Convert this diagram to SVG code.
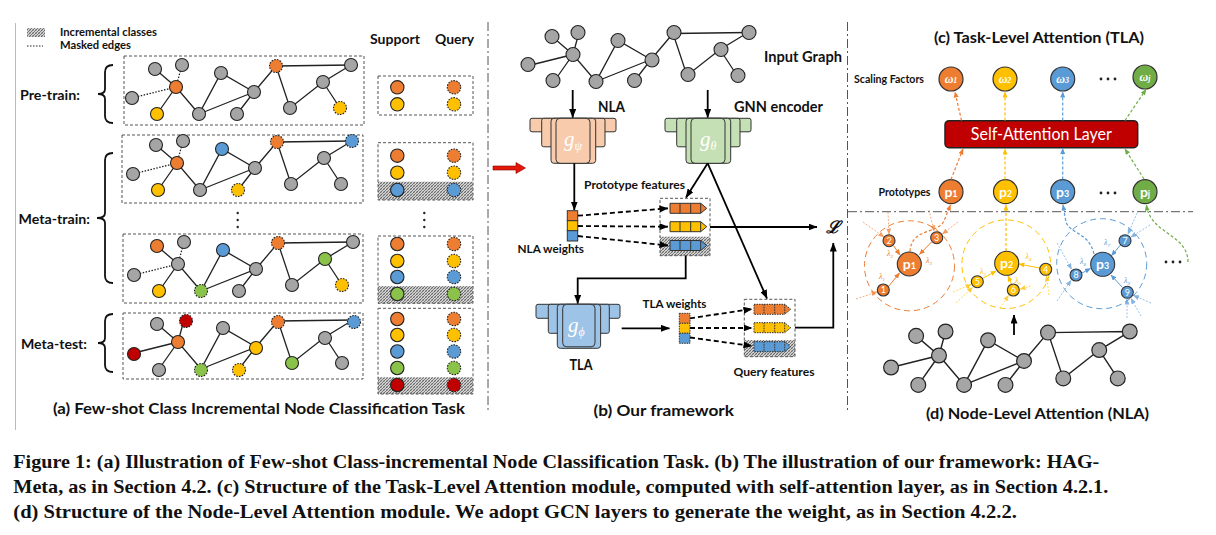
<svg xmlns="http://www.w3.org/2000/svg" width="1216" height="535" viewBox="0 0 1216 535">
<style>
.lb{font-family:Lato,'Liberation Sans',sans-serif;font-weight:700;fill:#111}
.cap{font-family:'Liberation Serif',serif;font-weight:700;fill:#111;font-size:19px}
.n{stroke:#222;stroke-width:1.1}
.gr{fill:#A5A5A5}.or{fill:#ED7D31}.ye{fill:#FFC000}.bl{fill:#5B9BD5}.gn{fill:#8BC34A}.rd{fill:#C00000}.gn2{fill:#70AD47}
.q{stroke-dasharray:1.6 1.2}
.e{fill:none;stroke:#222;stroke-width:1.3}
.m{stroke-dasharray:1.5 1.5}
.box{fill:none;stroke:#555;stroke-width:1;stroke-dasharray:3 2}
.dd{fill:none;stroke:#555;stroke-width:1;stroke-dasharray:9 3 2 3}
.ar{fill:none;stroke:#000;stroke-width:1.8;marker-end:url(#ak)}
.da{fill:none;stroke:#000;stroke-width:1.8;stroke-dasharray:5 3;marker-end:url(#ak)}
.blk rect{stroke:#333;stroke-width:1}
.nla rect{fill:#F8CBAD}.gnn rect{fill:#C5E0B4}.tla rect{fill:#9DC3E6}
.gt{font-family:'Liberation Serif',serif;font-style:italic;fill:#fff;font-size:21px}
.cl{fill:none;stroke-width:1.2;stroke-dasharray:3 2}
.thin{fill:none;stroke-width:0.8;stroke-dasharray:2 1.5;opacity:0.75}
.sol{fill:none;stroke-width:1}
.lam{font-family:'Liberation Serif',serif;font-style:italic;font-size:8px}
.num{font-family:Lato,'Liberation Sans',sans-serif;font-size:9px;fill:#fff;text-anchor:middle}
.pt{font-family:Lato,'Liberation Sans',sans-serif;font-weight:700;font-size:14px;fill:#fff;text-anchor:middle}
.wt{font-family:'Liberation Serif',serif;font-style:italic;font-weight:700;font-size:12px;fill:#fff;text-anchor:middle}
</style>
<defs>
<pattern id="hatch" width="3" height="3" patternUnits="userSpaceOnUse">
<rect width="3" height="3" fill="#d4d4d4"/>
<path d="M0,3 L3,0 M-1,1 L1,-1 M2,4 L4,2" stroke="#505050" stroke-width="0.8"/>
<path d="M0,0 L3,3" stroke="#8a8a8a" stroke-width="0.5"/>
</pattern>
<marker id="ak" markerUnits="userSpaceOnUse" markerWidth="9" markerHeight="7" refX="8.5" refY="3.5" orient="auto"><path d="M0,0 L9,3.5 L0,7 z" fill="#000"/></marker>
<marker id="aor" markerUnits="userSpaceOnUse" markerWidth="6" markerHeight="5" refX="5.5" refY="2.5" orient="auto"><path d="M0,0 L6,2.5 L0,5 z" fill="#ED7D31"/></marker>
<marker id="aye" markerUnits="userSpaceOnUse" markerWidth="6" markerHeight="5" refX="5.5" refY="2.5" orient="auto"><path d="M0,0 L6,2.5 L0,5 z" fill="#FFC000"/></marker>
<marker id="abl" markerUnits="userSpaceOnUse" markerWidth="6" markerHeight="5" refX="5.5" refY="2.5" orient="auto"><path d="M0,0 L6,2.5 L0,5 z" fill="#5B9BD5"/></marker>
<marker id="agn" markerUnits="userSpaceOnUse" markerWidth="6" markerHeight="5" refX="5.5" refY="2.5" orient="auto"><path d="M0,0 L6,2.5 L0,5 z" fill="#70AD47"/></marker>
<path id="bar" d="M0,0 H30.7 L36.7,5 L30.7,10 H0 Z M10,0 V10 M20.7,0 V10 M30.7,0 V10"/>
<path id="egs" d="M-21,-18L0,0 M-19,27L0,0 L23,27 L45,-14 L78,5 M23,27L78,5 M61,27L78,5 L100,-21 L175,-22 M100,-21L114,21 L147,-5 L175,-22 M147,-5L164,21"/>
<path id="egm" d="M6,-22L0,0 M-44,11L0,0"/>
<g id="ell"><circle cx="-7" cy="0" r="1.4"/><circle cx="0" cy="0" r="1.4"/><circle cx="7" cy="0" r="1.4"/></g>
</defs>
<rect width="1216" height="535" fill="#fff"/>

<!-- dividers -->
<g id="dividers">
<line x1="15.5" y1="23" x2="15.5" y2="430" stroke="#bbb" stroke-width="1"/>
<line class="dd" x1="488" y1="22" x2="488" y2="412"/>
<line class="dd" x1="847.5" y1="22" x2="847.5" y2="412"/>
<line class="dd" x1="848" y1="211.7" x2="1193" y2="211.7"/>
</g>

<!-- (a) panel -->
<g id="legend">
<rect x="27" y="28" width="18" height="9" fill="url(#hatch)"/>
<line x1="27" y1="46" x2="43" y2="46" stroke="#222" stroke-width="1.2" stroke-dasharray="1.5 1.5"/>
<text class="lb" x="60" y="35.5" font-size="10.5" textLength="97" lengthAdjust="spacingAndGlyphs">Incremental classes</text>
<text class="lb" x="60" y="49" font-size="10.5" textLength="71" lengthAdjust="spacingAndGlyphs">Masked edges</text>
<text class="lb" x="370" y="43.5" font-size="13.5" textLength="50" lengthAdjust="spacingAndGlyphs">Support</text>
<text class="lb" x="435" y="43.5" font-size="13.5" textLength="39" lengthAdjust="spacingAndGlyphs">Query</text>
</g>

<g id="stage-labels">
<text class="lb" x="20" y="100" font-size="14" textLength="60" lengthAdjust="spacingAndGlyphs">Pre-train:</text>
<text class="lb" x="18.5" y="223.5" font-size="14" textLength="71.5" lengthAdjust="spacingAndGlyphs">Meta-train:</text>
<text class="lb" x="21" y="349" font-size="14" textLength="66" lengthAdjust="spacingAndGlyphs">Meta-test:</text>
<path d="M113,65 Q105,65 105,72 V89 Q105,94 98,94 Q105,94 105,99 V116 Q105,123 113,123" fill="none" stroke="#111" stroke-width="1.8"/>
<path d="M113,153 Q105,153 105,160 V213 Q105,218 97,218 Q105,218 105,223 V276 Q105,283 113,283" fill="none" stroke="#111" stroke-width="1.8"/>
<path d="M113,314 Q105,314 105,321 V338 Q105,343 98,343 Q105,343 105,348 V365 Q105,372 113,372" fill="none" stroke="#111" stroke-width="1.8"/>
<text class="lb" x="53" y="414" font-size="15.5" textLength="412" lengthAdjust="spacingAndGlyphs">(a) Few-shot Class Incremental Node Classification Task</text>
</g>

<g id="pretrain-graph">
<rect class="box" x="124" y="56" width="240" height="69"/>
<g transform="translate(176,87)">
<use href="#egs" class="e"/><use href="#egm" class="e m"/>
<circle class="n gr" cx="-21" cy="-18" r="6.5"/><circle class="n gr" cx="6" cy="-22" r="6.5"/><circle class="n gr" cx="-44" cy="11" r="6.5"/>
<circle class="n ye" cx="-19" cy="27" r="6.5"/><circle class="n gr" cx="23" cy="27" r="6.5"/><circle class="n gr" cx="45" cy="-14" r="6.5"/>
<circle class="n gr" cx="78" cy="5" r="6.5"/><circle class="n gr" cx="61" cy="27" r="6.5"/><circle class="n or q" cx="100" cy="-21" r="6.5"/>
<circle class="n gr" cx="175" cy="-22" r="6.5"/><circle class="n gr" cx="147" cy="-5" r="6.5"/><circle class="n gr" cx="114" cy="21" r="6.5"/>
<circle class="n ye q" cx="164" cy="21" r="6.5"/><circle class="n or" cx="0" cy="0" r="6.5"/>
</g>
</g>

<g id="metatrain-graph-1">
<rect class="box" x="122" y="135" width="241" height="68"/>
<g transform="translate(177,163)">
<use href="#egs" class="e"/><use href="#egm" class="e m"/>
<circle class="n gr" cx="-21" cy="-18" r="6.5"/><circle class="n gr" cx="6" cy="-22" r="6.5"/><circle class="n gr" cx="-44" cy="11" r="6.5"/>
<circle class="n ye" cx="-19" cy="27" r="6.5"/><circle class="n gr" cx="23" cy="27" r="6.5"/><circle class="n bl" cx="45" cy="-14" r="6.5"/>
<circle class="n gr" cx="78" cy="5" r="6.5"/><circle class="n ye q" cx="61" cy="27" r="6.5"/><circle class="n or q" cx="100" cy="-21" r="6.5"/>
<circle class="n bl q" cx="175" cy="-22" r="6.5"/><circle class="n gr" cx="147" cy="-5" r="6.5"/><circle class="n gr" cx="114" cy="21" r="6.5"/>
<circle class="n gr" cx="164" cy="21" r="6.5"/><circle class="n or" cx="0" cy="0" r="6.5"/>
</g>
</g>

<g id="ellipsis-dots" fill="#222">
<circle cx="237.7" cy="213" r="1.2"/><circle cx="237.7" cy="220" r="1.2"/><circle cx="237.7" cy="227" r="1.2"/>
<circle cx="424.3" cy="213" r="1.2"/><circle cx="424.3" cy="220" r="1.2"/><circle cx="424.3" cy="227" r="1.2"/>
</g>

<g id="metatrain-graph-2">
<rect class="box" x="123" y="234" width="240" height="69"/>
<g transform="translate(178,264)">
<use href="#egs" class="e"/><use href="#egm" class="e m"/>
<circle class="n or" cx="-21" cy="-18" r="6.5"/><circle class="n gr" cx="6" cy="-22" r="6.5"/><circle class="n gr" cx="-44" cy="11" r="6.5"/>
<circle class="n ye" cx="-19" cy="27" r="6.5"/><circle class="n gn q" cx="23" cy="27" r="6.5"/><circle class="n bl" cx="45" cy="-14" r="6.5"/>
<circle class="n gr" cx="78" cy="5" r="6.5"/><circle class="n gr" cx="61" cy="27" r="6.5"/><circle class="n or q" cx="100" cy="-21" r="6.5"/>
<circle class="n gr" cx="175" cy="-22" r="6.5"/><circle class="n gn" cx="147" cy="-5" r="6.5"/><circle class="n gr" cx="114" cy="21" r="6.5"/>
<circle class="n ye q" cx="164" cy="21" r="6.5"/><circle class="n gr" cx="0" cy="0" r="6.5"/>
</g>
</g>

<g id="metatest-graph">
<rect class="box" x="123" y="313" width="240" height="66"/>
<g transform="translate(178,342)">
<use href="#egs" class="e"/><use href="#egm" class="e"/>
<circle class="n gr" cx="-21" cy="-18" r="6.5"/><circle class="n rd q" cx="8" cy="-21" r="6.5"/><circle class="n rd" cx="-44" cy="12" r="6.5"/>
<circle class="n gr" cx="-19" cy="28" r="6.5"/><circle class="n gn q" cx="23" cy="28" r="6.5"/><circle class="n gr" cx="45" cy="-14" r="6.5"/>
<circle class="n ye" cx="78" cy="6" r="6.5"/><circle class="n ye q" cx="61" cy="28" r="6.5"/><circle class="n or q" cx="100" cy="-20" r="6.5"/>
<circle class="n bl q" cx="176" cy="-20" r="6.5"/><circle class="n gr" cx="147" cy="-4" r="6.5"/><circle class="n gn" cx="114" cy="21" r="6.5"/>
<circle class="n gr" cx="164" cy="21" r="6.5"/><circle class="n or" cx="0" cy="0" r="6.5"/>
</g>
</g>

<g id="sq-pretrain">
<rect class="box" x="378" y="76" width="95" height="39"/>
<circle class="n or" cx="397.3" cy="87.3" r="6.7"/><circle class="n or q" cx="454" cy="87.3" r="6.7"/>
<circle class="n ye" cx="397.3" cy="104.3" r="6.7"/><circle class="n ye q" cx="454" cy="104.3" r="6.7"/>
</g>
<g id="sq-metatrain-1">
<rect x="378" y="181.7" width="95" height="18.3" fill="url(#hatch)"/>
<rect class="box" x="378" y="142.7" width="95" height="57.3"/>
<circle class="n or" cx="397.3" cy="155.7" r="6.7"/><circle class="n or q" cx="454" cy="155.7" r="6.7"/>
<circle class="n ye" cx="397.3" cy="172.7" r="6.7"/><circle class="n ye q" cx="454" cy="172.7" r="6.7"/>
<circle class="n bl" cx="397.3" cy="190" r="6.7"/><circle class="n bl q" cx="454" cy="190" r="6.7"/>
</g>
<g id="sq-metatrain-2">
<rect x="378" y="286" width="95" height="17.3" fill="url(#hatch)"/>
<rect class="box" x="378" y="236" width="95" height="67.3"/>
<circle class="n or" cx="397.3" cy="244" r="6.7"/><circle class="n or q" cx="454" cy="244" r="6.7"/>
<circle class="n ye" cx="397.3" cy="261" r="6.7"/><circle class="n ye q" cx="454" cy="261" r="6.7"/>
<circle class="n bl" cx="397.3" cy="277" r="6.7"/><circle class="n bl q" cx="454" cy="277" r="6.7"/>
<circle class="n gn" cx="397.3" cy="294" r="6.7"/><circle class="n gn q" cx="454" cy="294" r="6.7"/>
</g>
<g id="sq-metatest">
<rect x="378" y="377.3" width="95" height="16.7" fill="url(#hatch)"/>
<rect class="box" x="378" y="308.3" width="95" height="85.7"/>
<circle class="n or" cx="397.3" cy="319" r="6.7"/><circle class="n or q" cx="454" cy="319" r="6.7"/>
<circle class="n ye" cx="397.3" cy="335" r="6.7"/><circle class="n ye q" cx="454" cy="335" r="6.7"/>
<circle class="n bl" cx="397.3" cy="351.5" r="6.7"/><circle class="n bl q" cx="454" cy="351.5" r="6.7"/>
<circle class="n gn" cx="397.3" cy="368" r="6.7"/><circle class="n gn q" cx="454" cy="368" r="6.7"/>
<circle class="n rd" cx="397.3" cy="385" r="6.7"/><circle class="n rd q" cx="454" cy="385" r="6.7"/>
</g>

<g id="red-arrow">
<path d="M493,166 H516 V162.5 L525.5,168 L516,173.5 V170 H493 Z" fill="#E3170A" stroke="#8a0000" stroke-width="0.6"/>
</g>

<!-- (b) panel -->
<g id="input-graph" transform="translate(573,54.5)">
<use href="#egs" class="e"/><use href="#egm" class="e"/>
<g class="n gr">
<circle cx="-21" cy="-18" r="7"/><circle cx="5" cy="-22" r="7"/><circle cx="-45" cy="10" r="7"/><circle cx="-20" cy="26" r="7"/>
<circle cx="23" cy="27" r="7"/><circle cx="45" cy="-14" r="7"/><circle cx="79" cy="5.5" r="7"/><circle cx="61.5" cy="26" r="7"/>
<circle cx="101" cy="-22" r="7"/><circle cx="176" cy="-22" r="7"/><circle cx="148" cy="-5" r="7"/><circle cx="115" cy="20" r="7"/>
<circle cx="165" cy="21" r="7"/><circle cx="0" cy="0" r="7"/>
</g>
</g>
<g id="b-labels">
<text class="lb" x="764" y="62" font-size="14.5" textLength="78" lengthAdjust="spacingAndGlyphs">Input Graph</text>
<text class="lb" x="598" y="111.5" font-size="14.5" textLength="27" lengthAdjust="spacingAndGlyphs">NLA</text>
<text class="lb" x="734" y="111.5" font-size="14.5" textLength="89" lengthAdjust="spacingAndGlyphs">GNN encoder</text>
<text class="lb" x="584" y="188.5" font-size="11.5" textLength="101" lengthAdjust="spacingAndGlyphs">Prototype features</text>
<text class="lb" x="517.5" y="253" font-size="11.5" textLength="66.5" lengthAdjust="spacingAndGlyphs">NLA weights</text>
<text class="lb" x="642.5" y="307.5" font-size="11.5" textLength="64" lengthAdjust="spacingAndGlyphs">TLA weights</text>
<text class="lb" x="569.5" y="370" font-size="14.5" textLength="23" lengthAdjust="spacingAndGlyphs">TLA</text>
<text class="lb" x="733.5" y="375.5" font-size="11.5" textLength="81" lengthAdjust="spacingAndGlyphs">Query features</text>
<text class="lb" x="593.5" y="416" font-size="15.5" textLength="140.5" lengthAdjust="spacingAndGlyphs">(b) Our framework</text>
<text x="826" y="233" font-family="'DejaVu Serif',serif" font-style="italic" font-weight="700" font-size="17" fill="#111">ℒ</text>
</g>

<g id="nla-block" class="blk nla" transform="translate(530,118.3)">
<rect x="0" y="0" width="86" height="13.5" rx="2"/>
<rect x="11.7" y="0" width="63.3" height="28.5" rx="2"/>
<rect x="21" y="0" width="44.7" height="45" rx="3"/>
<rect x="26" y="0" width="34" height="45" rx="4"/>
<text class="gt" x="34" y="28">g<tspan font-size="12" dy="4">ψ</tspan></text>
</g>
<g id="gnn-block" class="blk gnn" transform="translate(665,118.3)">
<rect x="0" y="0" width="86" height="13.5" rx="2"/>
<rect x="11.7" y="0" width="63.3" height="28.5" rx="2"/>
<rect x="21" y="0" width="44.7" height="45" rx="3"/>
<rect x="26" y="0" width="34" height="45" rx="4"/>
<text class="gt" x="35" y="28">g<tspan font-size="12" dy="4">θ</tspan></text>
</g>
<g id="tla-block" class="blk tla" transform="translate(536,304.3)">
<rect x="0" y="0" width="84" height="14" rx="2"/>
<rect x="12.3" y="0" width="61" height="29" rx="2"/>
<rect x="21.3" y="0" width="43.3" height="44" rx="3"/>
<rect x="26.7" y="0" width="32.3" height="42.5" rx="4"/>
<text class="gt" x="32" y="28">g<tspan font-size="12" dy="4">ϕ</tspan></text>
</g>

<g id="nla-weights" stroke="#333" stroke-width="1">
<rect x="567.3" y="210.7" width="10.4" height="10" fill="#ED7D31"/>
<rect x="567.3" y="220.7" width="10.4" height="10" fill="#FFC000"/>
<rect x="567.3" y="230.7" width="10.4" height="10.3" fill="#5B9BD5"/>
</g>
<g id="tla-weights" stroke="#333" stroke-width="1" stroke-dasharray="1.5 1">
<rect x="679.3" y="313.3" width="10.7" height="10" fill="#ED7D31"/>
<rect x="679.3" y="323.3" width="10.7" height="10" fill="#FFC000"/>
<rect x="679.3" y="333.3" width="10.7" height="10" fill="#5B9BD5"/>
</g>

<g id="prototype-features">
<rect x="660" y="236.7" width="50" height="19" fill="url(#hatch)"/>
<rect class="box" x="660" y="198.3" width="50" height="57.4"/>
<use href="#bar" x="670" y="203.3" fill="#ED7D31" stroke="#333" stroke-width="1"/>
<use href="#bar" x="670" y="221.7" fill="#FFC000" stroke="#333" stroke-width="1"/>
<use href="#bar" x="670" y="240.5" fill="#5B9BD5" stroke="#333" stroke-width="1"/>
</g>
<g id="query-features">
<rect x="744.3" y="340" width="50.7" height="16.7" fill="url(#hatch)"/>
<rect class="box" x="744.3" y="299.3" width="50.7" height="57.4"/>
<use href="#bar" x="754" y="304.3" fill="#ED7D31" stroke="#333" stroke-width="1" stroke-dasharray="1.5 1"/>
<use href="#bar" x="754" y="322.7" fill="#FFC000" stroke="#333" stroke-width="1" stroke-dasharray="1.5 1"/>
<use href="#bar" x="754" y="341.7" fill="#5B9BD5" stroke="#333" stroke-width="1" stroke-dasharray="1.5 1"/>
</g>

<g id="connectors-b">
<path class="ar" d="M572.7,90 V117.5"/>
<path class="ar" d="M707.7,90 V117.5"/>
<path class="ar" d="M574.3,163.3 V210"/>
<path class="ar" d="M707.7,163.3 L686,197.5"/>
<path class="ar" d="M707.7,163.3 L767,298.5"/>
<path class="ar" d="M710,227 H817"/>
<path class="ar" d="M795,327.7 H833.3 V243"/>
<path class="ar" d="M685.7,255.7 V278.3 H577.7 V303.5"/>
<path class="ar" d="M621.7,328.3 H669.5"/>
<path class="da" d="M578,215.7 L668,208.3"/>
<path class="da" d="M578,226 L668,226.7"/>
<path class="da" d="M578,236 L668,245.5"/>
<path class="da" d="M690,318.3 L752,309"/>
<path class="da" d="M690,328 L752,328"/>
<path class="da" d="M690,337.5 L752,346"/>
</g>

<!-- (c) panel -->
<g id="c-labels">
<text class="lb" x="934" y="42.5" font-size="15.5" textLength="210" lengthAdjust="spacingAndGlyphs">(c) Task-Level Attention (TLA)</text>
<text class="lb" x="854" y="83" font-size="11" textLength="70" lengthAdjust="spacingAndGlyphs">Scaling Factors</text>
<text class="lb" x="878.5" y="195.5" font-size="11" textLength="52" lengthAdjust="spacingAndGlyphs">Prototypes</text>
<use href="#ell" x="1108" y="79" fill="#222"/>
<use href="#ell" x="1108" y="193" fill="#222"/>
</g>
<g id="self-attention-layer">
<rect x="945" y="120.7" width="192.7" height="27" rx="4" fill="#C00000" stroke="#222" stroke-width="1.5"/>
<text x="1041.3" y="140" font-family="Lato,'Liberation Sans',sans-serif" font-size="16.5" fill="#fff" text-anchor="middle" textLength="141" lengthAdjust="spacingAndGlyphs">Self-Attention Layer</text>
</g>
<g id="scaling-factors" stroke="#333" stroke-width="1.2">
<circle cx="951" cy="79" r="12" fill="#ED7D31"/>
<circle cx="1005" cy="79" r="12" fill="#FFC000"/>
<circle cx="1062.7" cy="79" r="12" fill="#5B9BD5"/>
<circle cx="1145" cy="77" r="12" fill="#70AD47"/>
</g>
<g id="scaling-text">
<text class="wt" x="951" y="83">ω<tspan font-size="8">1</tspan></text>
<text class="wt" x="1005" y="83">ω<tspan font-size="8">2</tspan></text>
<text class="wt" x="1062.7" y="83">ω<tspan font-size="8">3</tspan></text>
<text class="wt" x="1145" y="81">ω<tspan font-size="8">j</tspan></text>
</g>
<g id="prototypes-c" stroke="#333" stroke-width="1.2">
<circle cx="951" cy="191.7" r="12" fill="#ED7D31"/>
<circle cx="1005.5" cy="191.7" r="12" fill="#FFC000"/>
<circle cx="1062.7" cy="191.7" r="12" fill="#5B9BD5"/>
<circle cx="1145" cy="191.7" r="12" fill="#70AD47"/>
</g>
<g id="prototypes-c-text">
<text class="pt" x="951" y="196.5">p<tspan font-size="9">1</tspan></text>
<text class="pt" x="1005.5" y="196.5">p<tspan font-size="9">2</tspan></text>
<text class="pt" x="1062.7" y="196.5">p<tspan font-size="9">3</tspan></text>
<text class="pt" x="1145" y="196.5">p<tspan font-size="9">j</tspan></text>
</g>
<g id="connectors-c">
<path class="cl" stroke="#ED7D31" marker-end="url(#aor)" d="M951,179.5 L963,149"/>
<path class="cl" stroke="#ED7D31" marker-end="url(#aor)" d="M961.5,120.5 L955,92"/>
<path class="cl" stroke="#FFC000" marker-end="url(#aye)" d="M1005,179.5 V149"/>
<path class="cl" stroke="#FFC000" marker-end="url(#aye)" d="M1005,120.5 V92"/>
<path class="cl" stroke="#5B9BD5" marker-end="url(#abl)" d="M1062.7,179.5 V148.5"/>
<path class="cl" stroke="#5B9BD5" marker-end="url(#abl)" d="M1062.7,120.5 V92"/>
<path class="cl" stroke="#70AD47" marker-end="url(#agn)" d="M1144,179 L1125,149"/>
<path class="cl" stroke="#70AD47" marker-end="url(#agn)" d="M1125,120.5 L1146,89.5"/>
</g>

<!-- (d) panel -->
<g id="nla-cluster-1">
<circle cx="909.5" cy="265.8" r="45" fill="none" stroke="#ED7D31" stroke-width="1" stroke-dasharray="6 4"/>
<path class="thin" stroke="#ED7D31" marker-end="url(#aor)" d="M863,222 L884,237"/>
<path class="thin" stroke="#ED7D31" marker-end="url(#aor)" d="M888,212 L889,234"/>
<path class="thin" stroke="#ED7D31" marker-end="url(#aor)" d="M929,210 L934,231"/>
<path class="thin" stroke="#ED7D31" marker-end="url(#aor)" d="M958,222 L942.5,234"/>
<path class="thin" stroke="#ED7D31" marker-end="url(#aor)" d="M856,299 L877,292"/>
<path class="sol" stroke="#ED7D31" marker-end="url(#aor)" d="M893.5,245.5 L900,255"/>
<path class="sol" stroke="#ED7D31" marker-end="url(#aor)" d="M931.5,242 L919.5,254.5"/>
<path class="sol" stroke="#ED7D31" marker-end="url(#aor)" d="M888.5,286.5 L899.5,273"/>
<path class="cl" stroke="#ED7D31" marker-end="url(#aor)" d="M910,251.5 C911,228 938,234 944,221 L950.5,205"/>
<g stroke="#333" stroke-width="1.1" fill="#ED7D31">
<circle cx="909.3" cy="264" r="12"/>
<circle cx="889" cy="240.7" r="6"/>
<circle cx="936.7" cy="237.7" r="6"/>
<circle cx="883.3" cy="290" r="6"/>
</g>
<text class="pt" x="909.3" y="269">p<tspan font-size="9">1</tspan></text>
<text class="num" x="889" y="244">2</text><text class="num" x="936.7" y="241">3</text><text class="num" x="883.3" y="293.3">1</text>
<g class="lam" fill="#ED7D31">
<text x="887" y="256">λ<tspan font-size="5" dy="2">2</tspan></text>
<text x="926" y="262.5">λ<tspan font-size="5" dy="2">3</tspan></text>
<text x="879" y="278.5">λ<tspan font-size="5" dy="2">1</tspan></text>
</g>
</g>

<g id="nla-cluster-2">
<circle cx="1006.2" cy="264.2" r="44.3" fill="none" stroke="#FFC000" stroke-width="1" stroke-dasharray="6 4"/>
<path class="thin" stroke="#FFC000" marker-end="url(#aye)" d="M953,292 L971,284.5"/>
<path class="thin" stroke="#FFC000" marker-end="url(#aye)" d="M956,303 L972.5,287.5"/>
<path class="thin" stroke="#FFC000" marker-end="url(#aye)" d="M1031,286 L1020,289"/>
<path class="thin" stroke="#FFC000" marker-end="url(#aye)" d="M1000,308 L1008.5,295.5"/>
<path class="thin" stroke="#FFC000" marker-end="url(#aye)" d="M1049,295 L1046.5,276"/>
<path class="sol" stroke="#FFC000" marker-end="url(#aye)" d="M1039.5,268 L1019,264"/>
<path class="sol" stroke="#FFC000" marker-end="url(#aye)" d="M982.5,278.5 L996,271"/>
<path class="sol" stroke="#FFC000" marker-end="url(#aye)" d="M1011.5,284 L1008,276"/>
<path class="cl" stroke="#FFC000" marker-end="url(#aye)" d="M1006,251 V205"/>
<g stroke="#333" stroke-width="1.1" fill="#FFC000">
<circle cx="1006.7" cy="263.3" r="12"/>
<circle cx="1045.7" cy="269.3" r="6"/>
<circle cx="977.3" cy="281.7" r="6"/>
<circle cx="1013.3" cy="290" r="6"/>
</g>
<text class="pt" x="1006.7" y="268.3">p<tspan font-size="9">2</tspan></text>
<text class="num" x="1045.7" y="272.6">4</text><text class="num" x="977.3" y="285">5</text><text class="num" x="1013.3" y="293.3">6</text>
<g class="lam" fill="#FFC000">
<text x="1025.5" y="259">λ<tspan font-size="5" dy="2">4</tspan></text>
<text x="980" y="274">λ<tspan font-size="5" dy="2">5</tspan></text>
<text x="1015" y="282.5">λ<tspan font-size="5" dy="2">6</tspan></text>
</g>
</g>

<g id="nla-cluster-3">
<circle cx="1101.7" cy="263.7" r="45" fill="none" stroke="#5B9BD5" stroke-width="1" stroke-dasharray="6 4"/>
<path class="thin" stroke="#5B9BD5" marker-end="url(#abl)" d="M1150,225 L1131,237"/>
<path class="thin" stroke="#5B9BD5" marker-end="url(#abl)" d="M1137,213 L1128,234"/>
<path class="thin" stroke="#5B9BD5" marker-end="url(#abl)" d="M1057,243 L1071.5,269"/>
<path class="thin" stroke="#5B9BD5" marker-end="url(#abl)" d="M1057,301 L1071,280.5"/>
<path class="thin" stroke="#5B9BD5" marker-end="url(#abl)" d="M1127,318 L1127,299"/>
<path class="thin" stroke="#5B9BD5" marker-end="url(#abl)" d="M1141,316 L1131,298.5"/>
<path class="thin" stroke="#5B9BD5" marker-end="url(#abl)" d="M1151,303 L1133.5,295.5"/>
<path class="sol" stroke="#5B9BD5" marker-end="url(#abl)" d="M1120.5,245 L1111.5,255.5"/>
<path class="sol" stroke="#5B9BD5" marker-end="url(#abl)" d="M1082,273 L1090.5,268.5"/>
<path class="sol" stroke="#5B9BD5" marker-end="url(#abl)" d="M1122.5,287.5 L1111,275"/>
<path class="cl" stroke="#5B9BD5" marker-end="url(#abl)" d="M1094,254 C1089,232 1070,234 1066,222 L1063,205"/>
<g stroke="#333" stroke-width="1.1" fill="#5B9BD5">
<circle cx="1102.7" cy="264.3" r="12"/>
<circle cx="1125" cy="240.7" r="6"/>
<circle cx="1076" cy="275" r="6"/>
<circle cx="1127.3" cy="292.3" r="6"/>
</g>
<text class="pt" x="1102.7" y="269.3">p<tspan font-size="9">3</tspan></text>
<text class="num" x="1125" y="244">7</text><text class="num" x="1076" y="278.3">8</text><text class="num" x="1127.3" y="295.6">9</text>
<g class="lam" fill="#5B9BD5">
<text x="1104" y="245">λ<tspan font-size="5" dy="2">7</tspan></text>
<text x="1080" y="264">λ<tspan font-size="5" dy="2">8</tspan></text>
<text x="1124" y="282.5">λ<tspan font-size="5" dy="2">9</tspan></text>
</g>
</g>

<g id="nla-cluster-j">
<path class="cl" stroke="#70AD47" marker-end="url(#agn)" d="M1188,262 C1188,234 1150,234 1146.5,205"/>
<use href="#ell" x="1173" y="262" fill="#222"/>
</g>

<g id="d-graph" transform="translate(939,355.5) scale(1.09)">
<use href="#egs" class="e"/><use href="#egm" class="e"/>
<g class="n gr">
<circle cx="-21" cy="-18" r="6.8"/><circle cx="6" cy="-22" r="6.8"/><circle cx="-44" cy="11" r="6.8"/><circle cx="-19" cy="27" r="6.8"/>
<circle cx="23" cy="27" r="6.8"/><circle cx="45" cy="-14" r="6.8"/><circle cx="78" cy="5" r="6.8"/><circle cx="61" cy="27" r="6.8"/>
<circle cx="100" cy="-21" r="6.8"/><circle cx="175" cy="-22" r="6.8"/><circle cx="147" cy="-5" r="6.8"/><circle cx="114" cy="21" r="6.8"/>
<circle cx="164" cy="21" r="6.8"/><circle cx="0" cy="0" r="6.8"/>
</g>
</g>
<g id="d-arrow"><path class="ar" d="M1014,335 V315"/></g>
<text class="lb" x="926" y="419" font-size="15.5" textLength="223" lengthAdjust="spacingAndGlyphs">(d) Node-Level Attention (NLA)</text>

<!-- caption -->
<g id="caption">
<text class="cap" x="13.3" y="468.3" textLength="1086" lengthAdjust="spacingAndGlyphs">Figure 1: (a) Illustration of Few-shot Class-incremental Node Classification Task. (b) The illustration of our framework: HAG-</text>
<text class="cap" x="13.3" y="493.3" textLength="1095" lengthAdjust="spacingAndGlyphs">Meta, as in Section 4.2. (c) Structure of the Task-Level Attention module, computed with self-attention layer, as in Section 4.2.1.</text>
<text class="cap" x="13.3" y="518.3" textLength="1003.5" lengthAdjust="spacingAndGlyphs">(d) Structure of the Node-Level Attention module. We adopt GCN layers to generate the weight, as in Section 4.2.2.</text>
</g>
</svg>
